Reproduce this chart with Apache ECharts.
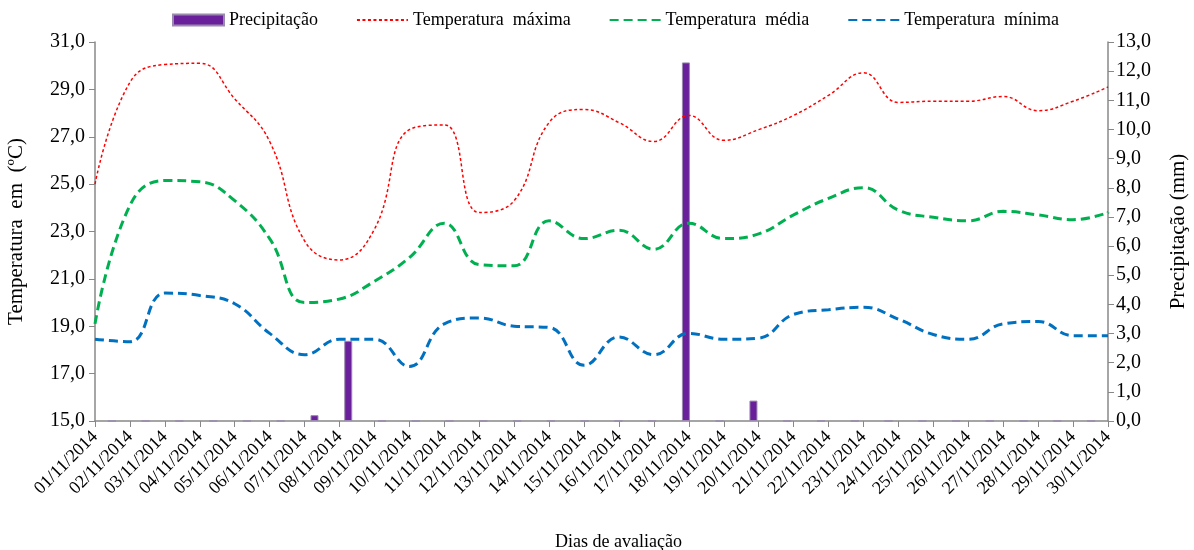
<!DOCTYPE html>
<html>
<head>
<meta charset="utf-8">
<script src="https://cdn.jsdelivr.net/npm/echarts@6/dist/echarts.min.js"></script>
<style>
  html, body { margin: 0; padding: 0; background: #fff; }
  #chart { width: 1194px; height: 550px; }
</style>
</head>
<body>
<div id="chart"></div>
<script>
const days = [
  "01/11/2014", "02/11/2014", "03/11/2014", "04/11/2014", "05/11/2014",
  "06/11/2014", "07/11/2014", "08/11/2014", "09/11/2014", "10/11/2014",
  "11/11/2014", "12/11/2014", "13/11/2014", "14/11/2014", "15/11/2014",
  "16/11/2014", "17/11/2014", "18/11/2014", "19/11/2014", "20/11/2014",
  "21/11/2014", "22/11/2014", "23/11/2014", "24/11/2014", "25/11/2014",
  "26/11/2014", "27/11/2014", "28/11/2014", "29/11/2014", "30/11/2014",
];

const precipitacao = [
  0, 0, 0, 0, 0, 0, 0.2, 2.75, 0, 0,
  0, 0, 0, 0, 0, 0, 0, 12.3, 0, 0.7,
  0, 0, 0, 0, 0, 0, 0, 0, 0, 0,
];

const tempMax = [
  25.0, 29.3, 30.05, 30.1, 28.6, 26.8, 22.6, 21.8, 23.1, 27.3,
  27.5, 23.8, 24.3, 27.6, 28.15, 27.6, 26.8, 27.9, 26.85, 27.3,
  27.9, 28.75, 29.7, 28.45, 28.5, 28.5, 28.7, 28.1, 28.5, 29.1,
];

const tempMed = [
  19.1, 24.1, 25.15, 25.1, 24.3, 22.7, 20.0, 20.15, 20.9, 21.9,
  23.35, 21.6, 21.55, 23.45, 22.7, 23.05, 22.25, 23.35, 22.7, 22.9,
  23.7, 24.4, 24.85, 23.9, 23.6, 23.45, 23.85, 23.7, 23.5, 23.8,
];

const tempMin = [
  18.45, 18.35, 20.4, 20.3, 19.95, 18.7, 17.8, 18.45, 18.45, 17.3,
  19.1, 19.35, 19.0, 18.95, 17.35, 18.55, 17.8, 18.7, 18.45, 18.5,
  19.5, 19.7, 19.8, 19.3, 18.65, 18.45, 19.1, 19.2, 18.6, 18.6,
];

const serif = "Liberation Serif";
const comma = (v) => v.toFixed(1).replace(".", ",");

const chart = echarts.init(document.getElementById("chart"));

// legend entries for the lines: hide the little marker, keep the dashed line
const noMarker = { opacity: 0 };

const option = {
  animation: false,
  backgroundColor: "#fff",
  textStyle: { fontFamily: serif, color: "#000" },
  legend: {
    top: 6,
    left: 167,
    itemWidth: 51,
    itemHeight: 11,
    itemGap: 38,
    textStyle: { fontFamily: serif, fontSize: 18, color: "#000" },
    data: [
      { name: "Precipitação", icon: "rect" },
      { name: "Temperatura  máxima", itemStyle: noMarker },
      { name: "Temperatura  média", itemStyle: noMarker },
      { name: "Temperatura  mínima", itemStyle: noMarker },
    ],
  },
  grid: { left: 95, right: 86, top: 42, bottom: 129, outerBoundsMode: "none", containLabel: false },
  xAxis: [
    {
      type: "category",
      data: days,
      boundaryGap: false,
      name: "Dias de avaliação",
      nameLocation: "middle",
      nameGap: 112,
      nameTextStyle: { fontFamily: serif, fontSize: 18, color: "#000", padding: [0, 0, 0, 34] },
      axisLine: { lineStyle: { color: "#888", width: 1.5 } },
      axisTick: { alignWithLabel: true, length: 6, lineStyle: { color: "#888" } },
      axisLabel: {
        rotate: 45,
        interval: 0,
        fontFamily: serif,
        fontSize: 18,
        color: "#000",
        margin: 13,
      },
    },
    {
      type: "category",
      data: days,
      boundaryGap: true,
      show: false,
    },
  ],
  yAxis: [
    {
      type: "value",
      min: 15,
      max: 31,
      interval: 2,
      name: "Temperatura  em  (ºC)",
      nameLocation: "middle",
      nameGap: 68,
      nameTextStyle: { fontFamily: serif, fontSize: 21, color: "#000" },
      splitLine: { show: false },
      axisLine: { show: true, lineStyle: { color: "#888", width: 1.5 } },
      axisTick: { show: true, length: 6, lineStyle: { color: "#888" } },
      axisLabel: { formatter: comma, fontFamily: serif, fontSize: 20, color: "#000", margin: 10 },
    },
    {
      type: "value",
      min: 0,
      max: 13,
      interval: 1,
      name: "Precipitação (mm)",
      nameLocation: "middle",
      nameGap: 60,
      nameTextStyle: { fontFamily: serif, fontSize: 21, color: "#000" },
      splitLine: { show: false },
      axisLine: { show: true, lineStyle: { color: "#888", width: 1.5 } },
      axisTick: { show: true, length: 6, lineStyle: { color: "#888" } },
      axisLabel: { formatter: comma, fontFamily: serif, fontSize: 20, color: "#000", margin: 8 },
    },
  ],
  series: [
    {
      name: "Precipitação",
      type: "bar",
      xAxisIndex: 1,
      yAxisIndex: 1,
      data: precipitacao,
      barWidth: 8,
      itemStyle: { color: "#6a1f9b", borderColor: "#9a8aae", borderWidth: 1 },
      z: 1,
    },
    {
      name: "Temperatura  máxima",
      type: "line",
      data: tempMax,
      smooth: 0.45,
      symbol: "none",
      color: "#ff0000",
      lineStyle: { color: "#ff0000", width: 1.5, type: [3, 2.5] },
      z: 3,
    },
    {
      name: "Temperatura  média",
      type: "line",
      data: tempMed,
      smooth: 0.45,
      symbol: "none",
      color: "#00b050",
      lineStyle: { color: "#00b050", width: 3, type: [9, 5] },
      z: 3,
    },
    {
      name: "Temperatura  mínima",
      type: "line",
      data: tempMin,
      smooth: 0.45,
      symbol: "none",
      color: "#0070c0",
      lineStyle: { color: "#0070c0", width: 3, type: [9, 5] },
      z: 3,
    },
  ],
};

chart.setOption(option);
</script>
</body>
</html>
